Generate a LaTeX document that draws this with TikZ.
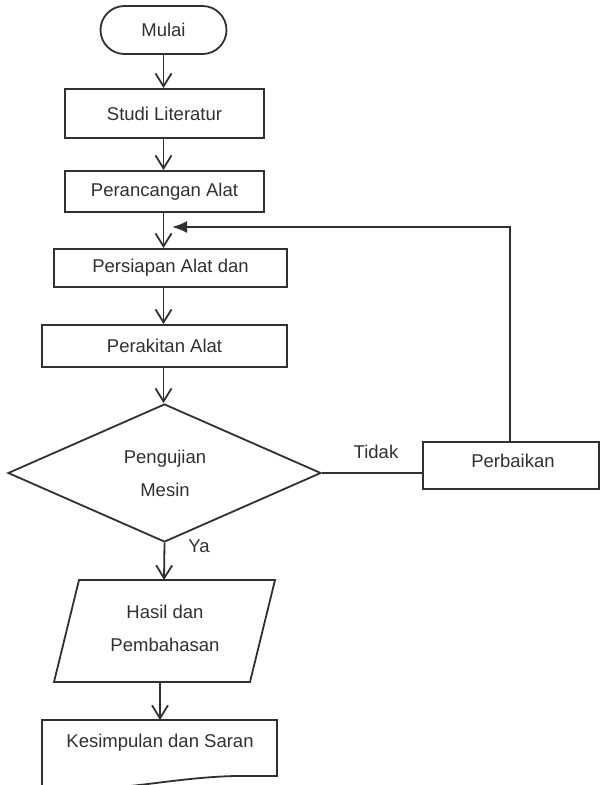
\documentclass[tikz,border=0pt]{standalone}
\usepackage{fontspec}
\setmainfont{Liberation Sans}
\usetikzlibrary{arrows.meta,shapes.geometric,shapes.misc}
\definecolor{ink}{HTML}{303030}
\begin{document}
\begin{tikzpicture}[x=1pt,y=-1pt,line width=1.8pt,
  every node/.style={text=ink,font=\fontsize{18.5}{33}\selectfont},
  box/.style={draw=ink,rectangle,inner sep=0pt},
  arr/.style={draw=ink,-{Straight Barb[length=13pt,width=16pt,line width=1.8pt]}},
  farr/.style={draw=ink,-{Latex[length=15pt,width=12pt]}},
  plain/.style={draw=ink}]
\useasboundingbox (0,0) rectangle (601,785);
% nodes
\node[draw=ink,rounded rectangle,minimum width=126pt,minimum height=48pt,inner sep=0pt] (mulai) at (163.5,30) {Mulai};
\node[box,minimum width=199pt,minimum height=49pt] (studi) at (164.5,113.5) {Studi Literatur};
\node[box,minimum width=199pt,minimum height=41pt] (ranc) at (164.5,191.5) {Perancangan Alat};
\node[box,minimum width=233pt,minimum height=38pt] (siap) at (170.5,268) {Persiapan Alat dan};
\node[box,minimum width=245pt,minimum height=42pt] (rakit) at (164.5,346) {Perakitan Alat};
\node[draw=ink,diamond,minimum width=313pt,minimum height=138pt,inner sep=0pt] (dec) at (164.5,473) {};
\node[align=center] (uji) at (165,473.5) {Pengujian\\Mesin};
\node[box,minimum width=176pt,minimum height=47pt] (perb) at (511,465.5) {};
\node (perbt) at (513,461) {Perbaikan};
\node (tidak) at (376,452) {Tidak};
\node (ya) at (199,546) {Ya};
% parallelogram
\coordinate (ptl) at (79,580);
\coordinate (ptr) at (275,580);
\coordinate (pbr) at (250,682);
\coordinate (pbl) at (54,682);
\draw[plain,line join=miter] (ptl) -- (ptr) -- (pbr) -- (pbl) -- cycle;
\node[align=center] (hasil) at (165,628.5) {Hasil dan\\Pembahasan};
% document shape
\coordinate (ktl) at (42,720);
\coordinate (ktr) at (277,720);
\draw[plain] (42,792) -- (ktl) -- (ktr) -- (277,776) -- (235,776)
  .. controls (195,777) and (160,783) .. (130,786) -- (42,792);
\node (kes) at (160,743) {Kesimpulan dan Saran};
% connectors
\draw[arr] (mulai.south) -- (mulai.south |- studi.north);
\draw[arr] (163.5,0 |- studi.south) -- (163.5,0 |- ranc.north);
\coordinate (c1) at (163.5,212);
\draw[arr] (c1) -- (c1 |- siap.north);
\coordinate (c2) at (163.5,287);
\draw[arr] (c2) -- (c2 |- rakit.north);
\coordinate (c3) at (163.5,367);
\draw[arr] (c3) -- (c3 |- dec.north);
\coordinate (fbtip) at (172,227);
\draw[farr] (perb.north -| 510,0) |- (fbtip);
\draw[plain] (dec.east) -- (dec.east -| perb.west);
\coordinate (ptop) at (164,580);
\draw[arr] (dec.south) -- (ptop);
\coordinate (pbot) at (160,682);
\draw[arr] (pbot) -- (ktl -| pbot);
\end{tikzpicture}
\end{document}
